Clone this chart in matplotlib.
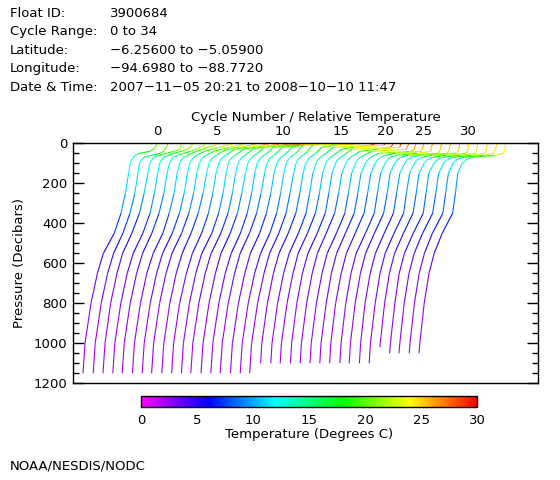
import matplotlib
matplotlib.use("Agg")
import matplotlib.pyplot as plt
import numpy as np
from matplotlib.collections import LineCollection
from matplotlib.colors import LinearSegmentedColormap, Normalize
from matplotlib.cm import ScalarMappable

# header info
info_keys = ["Float ID:", "Cycle Range:", "Latitude:", "Longitude:", "Date & Time:"]
info_vals = ["3900684", "0 to 34", "\u22126.25600 to \u22125.05900",
             "\u221294.6980 to \u221288.7720", "2007\u221211\u221205 20:21 to 2008\u221210\u221210 11:47"]

# profile data (temperature in deg C), one row per cycle
cycles = list(range(35))
offset = 2.45          # waterfall shift per cycle
p_up = [0, 10, 20, 30, 40, 50, 60, 70, 85, 100]
p_deep = [150, 250, 350, 450, 550, 650, 800, 1000]

t_up = [
    [20.7, 20.6, 20.3, 19.8, 19.0, 16.3, 15.2, 14.8, 14.3, 14.0],
    [21.0, 20.8, 20.6, 20.3, 19.9, 19.1, 16.8, 15.0, 14.3, 13.9],
    [21.9, 21.8, 21.7, 21.5, 20.2, 18.2, 16.5, 15.0, 14.4, 14.0],
    [22.2, 22.1, 21.6, 20.6, 19.4, 17.7, 16.2, 15.1, 14.4, 14.0],
    [22.9, 22.7, 21.8, 20.6, 19.3, 17.6, 16.1, 15.0, 14.4, 14.0],
    [23.5, 22.8, 21.2, 19.8, 18.3, 17.2, 16.1, 15.1, 14.5, 14.1],
    [24.5, 23.5, 21.6, 19.8, 17.9, 16.9, 16.0, 15.2, 14.6, 14.2],
    [25.3, 24.1, 21.8, 19.7, 17.7, 16.8, 15.9, 15.1, 14.5, 14.1],
    [26.2, 24.5, 21.6, 18.9, 17.5, 16.7, 15.9, 15.1, 14.5, 14.1],
    [27.0, 24.8, 21.2, 18.0, 17.3, 16.6, 15.8, 15.1, 14.5, 14.1],
    [27.7, 25.0, 20.7, 17.7, 17.2, 16.5, 15.8, 15.0, 14.4, 14.0],
    [28.3, 24.8, 19.8, 17.6, 17.1, 16.4, 15.7, 15.0, 14.4, 14.0],
    [28.9, 24.2, 18.0, 17.5, 17.0, 16.4, 15.7, 15.0, 14.4, 14.0],
    [29.4, 23.0, 17.8, 17.4, 16.9, 16.3, 15.6, 14.9, 14.3, 13.9],
    [29.8, 21.5, 17.7, 17.3, 16.8, 16.2, 15.6, 14.9, 14.3, 13.9],
    [29.9, 19.8, 17.6, 17.2, 16.8, 16.2, 15.6, 14.9, 14.3, 13.9],
    [29.6, 18.0, 17.5, 17.1, 16.7, 16.1, 15.5, 14.8, 14.2, 13.8],
    [29.3, 18.0, 17.5, 17.1, 16.7, 16.1, 15.5, 14.8, 14.2, 13.8],
    [29.0, 21.0, 17.7, 17.3, 16.8, 16.2, 15.6, 14.9, 14.2, 13.8],
    [28.9, 27.5, 18.2, 17.6, 17.0, 16.4, 15.7, 15.0, 14.3, 13.9],
    [28.7, 28.5, 21.0, 17.8, 17.2, 16.5, 15.8, 15.0, 14.3, 13.9],
    [28.2, 28.1, 27.5, 17.9, 17.3, 16.6, 15.9, 15.1, 14.3, 13.9],
    [27.6, 27.6, 27.5, 22.0, 17.6, 16.8, 16.0, 15.2, 14.4, 14.0],
    [27.0, 27.0, 26.9, 26.7, 18.0, 17.0, 16.1, 15.2, 14.4, 14.0],
    [26.4, 26.4, 26.3, 26.2, 25.5, 17.4, 16.2, 15.3, 14.5, 14.0],
    [26.0, 26.0, 25.9, 25.8, 25.6, 19.0, 16.4, 15.3, 14.5, 14.0],
    [25.7, 25.7, 25.6, 25.5, 25.4, 22.0, 16.8, 15.4, 14.5, 14.0],
    [25.5, 25.5, 25.4, 25.4, 25.2, 24.8, 17.3, 15.5, 14.5, 14.0],
    [25.3, 25.3, 25.2, 25.2, 25.0, 24.7, 17.8, 15.6, 14.5, 14.0],
    [25.1, 25.1, 25.1, 25.0, 24.9, 24.6, 18.5, 15.8, 14.5, 14.0],
    [25.0, 25.0, 24.9, 24.9, 24.8, 24.5, 19.5, 16.0, 14.6, 14.0],
    [24.8, 24.8, 24.8, 24.7, 24.6, 24.3, 20.5, 16.2, 14.6, 14.0],
    [24.7, 24.7, 24.6, 24.6, 24.5, 24.2, 21.0, 16.3, 14.6, 13.9],
    [24.5, 24.5, 24.5, 24.4, 24.3, 24.0, 21.5, 16.4, 14.5, 13.8],
    [24.4, 24.4, 24.4, 24.3, 24.2, 23.9, 21.8, 16.0, 14.5, 13.7],
]

t_deep = [
    [13.6, 12.8, 11.7, 10.0, 7.3, 5.8, 4.2, 2.7],
    [13.5, 12.7, 11.5, 9.7, 7.4, 5.9, 4.3, 2.8],
    [13.5, 12.6, 11.4, 9.5, 7.2, 5.8, 4.2, 2.8],
    [13.5, 12.7, 11.6, 9.8, 7.4, 5.9, 4.3, 2.8],
    [13.4, 12.6, 11.4, 9.6, 7.3, 5.8, 4.2, 2.7],
    [13.5, 12.7, 11.5, 9.9, 7.5, 5.9, 4.3, 2.8],
    [13.6, 12.8, 11.6, 9.8, 7.4, 5.9, 4.3, 2.8],
    [13.5, 12.7, 11.5, 9.7, 7.3, 5.8, 4.2, 2.7],
    [13.5, 12.6, 11.4, 9.6, 7.4, 5.9, 4.3, 2.8],
    [13.4, 12.6, 11.5, 9.8, 7.5, 6.0, 4.3, 2.8],
    [13.5, 12.7, 11.6, 9.9, 7.4, 5.9, 4.3, 2.8],
    [13.4, 12.6, 11.5, 9.7, 7.3, 5.8, 4.2, 2.7],
    [13.4, 12.5, 11.4, 9.6, 7.3, 5.9, 4.3, 2.8],
    [13.3, 12.5, 11.4, 9.7, 7.4, 5.9, 4.3, 2.8],
    [13.3, 12.4, 11.3, 9.5, 7.2, 5.8, 4.2, 2.7],
    [13.2, 12.4, 11.3, 9.6, 7.3, 5.9, 4.3, 2.8],
    [13.2, 12.4, 11.4, 9.7, 7.4, 5.9, 4.3, 2.8],
    [13.2, 12.3, 11.3, 9.5, 7.2, 5.8, 4.2, 2.7],
    [13.1, 12.3, 11.3, 9.4, 7.1, 5.7, 4.2, 2.8],
    [13.1, 12.3, 11.4, 9.5, 7.2, 5.8, 4.3, 2.9],
    [13.1, 12.3, 11.3, 9.3, 7.0, 5.7, 4.2, 2.8],
    [13.0, 12.2, 11.3, 9.3, 7.0, 5.6, 4.2, 2.9],
    [13.0, 12.2, 11.2, 9.1, 6.9, 5.6, 4.2, 2.9],
    [13.0, 12.2, 11.3, 9.2, 6.9, 5.6, 4.2, 2.9],
    [12.9, 12.1, 11.2, 9.0, 6.8, 5.5, 4.2, 2.9],
    [12.9, 12.1, 11.2, 9.0, 6.8, 5.5, 4.1, 2.9],
    [12.9, 12.1, 11.3, 9.1, 6.8, 5.5, 4.2, 3.0],
    [12.8, 12.1, 11.2, 8.9, 6.7, 5.4, 4.1, 2.9],
    [12.8, 12.0, 11.2, 8.9, 6.7, 5.4, 4.1, 3.0],
    [12.8, 12.0, 11.3, 8.9, 6.7, 5.4, 4.2, 3.0],
    [12.7, 12.0, 11.2, 8.8, 6.6, 5.3, 4.1, 3.0],
    [12.7, 12.0, 11.3, 8.8, 6.6, 5.3, 4.2, 3.1],
    [12.7, 12.0, 11.2, 8.7, 6.6, 5.3, 4.1, 3.0],
    [12.7, 12.0, 11.3, 8.7, 6.7, 5.4, 4.2, 3.1],
    [12.6, 12.0, 11.3, 8.7, 6.7, 5.4, 4.2, 3.1],
]

p_end = [1150] * 18 + [1100] * 12 + [1020, 1050, 1050, 1050, 1050]
t_end = [2.2, 2.3, 2.3, 2.3, 2.2, 2.3, 2.3, 2.2, 2.3, 2.3, 2.3, 2.2, 2.3, 2.3,
         2.2, 2.3, 2.3, 2.2, 2.5, 2.6, 2.5, 2.6, 2.6, 2.6, 2.6, 2.6, 2.7, 2.6,
         2.7, 2.7, 2.95, 2.9, 2.8, 2.9, 2.9]

label_cycles = [0, 5, 10, 15, 20, 25, 30]

cmap = LinearSegmentedColormap.from_list(
    "idl_rainbow", ["#ff00ff", "#0000ff", "#00ffff", "#00ff00", "#ffff00", "#ff0000"])
norm = Normalize(0, 30)
# colour index used for the profile lines (the original plot's line colours run bluer/purpler at depth)
col_t = [0, 2.5, 4.2, 6.5, 8, 10, 11.5, 13, 14, 16, 18, 30]
col_idx = [0, 2.2, 2.8, 4.0, 5.2, 6.5, 8.2, 11, 12.3, 15, 18, 30]

W, H = 560, 480
FS = 9.5
plt.rcParams['font.family'] = 'DejaVu Sans'
fig = plt.figure(figsize=(W / 100, H / 100), dpi=100)

# header block
for i, (k, v) in enumerate(zip(info_keys, info_vals)):
    y = 1 - (13.3 + i * 18.5) / H
    fig.text(10 / W, y, k, fontsize=FS, va='center')
    fig.text(110 / W, y, v, fontsize=FS, va='center')
fig.text(10 / W, 1 - 466 / H, "NOAA/NESDIS/NODC", fontsize=FS, va='center')

ax = fig.add_axes([73 / W, 1 - 383.3 / H, 465 / W, 240 / H])

for c in cycles:
    p = np.array(p_up + p_deep + [p_end[c]], dtype=float)
    t = np.array(t_up[c] + t_deep[c] + [t_end[c]], dtype=float)
    x = t + offset * c
    pts = np.column_stack([x, p])
    segs = np.stack([pts[:-1], pts[1:]], axis=1)
    cols = cmap(norm(np.interp((t[:-1] + t[1:]) / 2, col_t, col_idx)))
    ax.add_collection(LineCollection(segs, colors=cols, linewidths=0.8))

ax.set_xlim(-0.3, -0.3 + 465 / 4)
ax.set_ylim(1200, 0)

ax.xaxis.set_ticks_position('top')
ax.xaxis.set_label_position('top')
ax.set_xticks([t_up[c][0] + offset * c for c in label_cycles])
ax.set_xticklabels([str(c) for c in label_cycles], fontsize=FS)
ax.tick_params(axis='x', length=0, pad=4)
ax.set_xlabel("Cycle Number / Relative Temperature", fontsize=FS)
ax.xaxis.set_label_coords((316 - 73) / 465, (383.3 - 118) / 240)
ax.xaxis.label.set_va('center')

ax.set_yticks(np.arange(0, 1201, 200))
ax.set_yticks(np.arange(0, 1201, 50), minor=True)
ax.tick_params(axis='y', which='both', direction='in', left=True, right=True, labelsize=FS, pad=4)
ax.tick_params(axis='y', which='major', length=8, width=1)
ax.tick_params(axis='y', which='minor', length=4, width=1)
ax.set_ylabel("Pressure (Decibars)", fontsize=FS)
ax.yaxis.set_label_coords(-(73 - 20) / 465, (383.3 - 263) / 240)
ax.yaxis.label.set_va('center')
for s in ax.spines.values():
    s.set_linewidth(1)

# colorbar
cax = fig.add_axes([141 / W, 1 - 407 / H, 336 / W, 11 / H])
cb = fig.colorbar(ScalarMappable(norm=norm, cmap=cmap), cax=cax, orientation='horizontal')
cb.set_ticks(np.arange(0, 31, 5))
cb.ax.tick_params(length=0, labelsize=FS, pad=5)
cb.outline.set_linewidth(1)
cb.set_label("Temperature (Degrees C)", fontsize=FS, labelpad=1)

fig.savefig("out.png", dpi=100)
